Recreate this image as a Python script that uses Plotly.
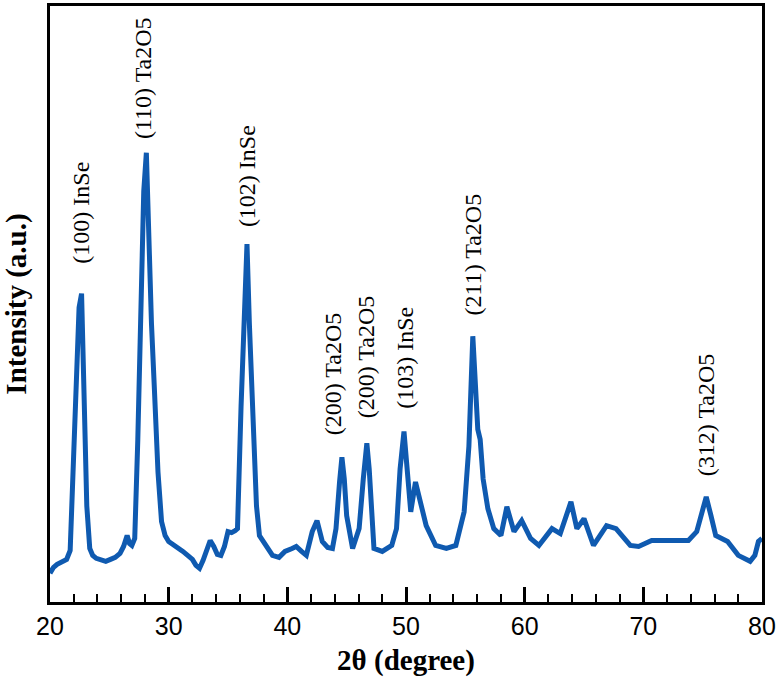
import plotly.graph_objects as go

two_theta = [20.0, 20.3, 20.6, 21.0, 21.4, 21.7, 21.95, 22.2, 22.45, 22.66, 22.8, 22.95, 23.1, 23.35, 23.6, 23.9,
             24.3, 24.7, 25.1, 25.5, 25.9, 26.2, 26.5, 26.7, 26.9, 27.14, 27.4, 27.7, 27.9, 28.12, 28.3, 28.55,
             28.8, 29.1, 29.4, 29.7, 30.0, 30.4, 30.8, 31.2, 31.6, 32.0, 32.3, 32.6, 32.9, 33.2, 33.5, 33.8,
             34.1, 34.4, 34.7, 35.0, 35.3, 35.6, 35.8, 36.1, 36.4, 36.6, 36.8, 37.05, 37.4, 37.65, 38.2, 38.75,
             39.3, 39.8, 40.4, 40.75, 41.2, 41.6, 42.1, 42.5, 42.95, 43.4, 43.8, 44.1, 44.4, 44.6, 44.8, 45.0,
             45.5, 46.05, 46.4, 46.7, 46.9, 47.05, 47.3, 48.0, 48.8, 49.2, 49.5, 49.83, 50.1, 50.4, 50.8, 51.2,
             51.7, 52.5, 53.4, 54.2, 54.9, 55.3, 55.47, 55.63, 55.85, 56.05, 56.25, 56.5, 56.9, 57.4, 58.0, 58.5,
             59.1, 59.75, 60.5, 61.2, 62.3, 63.0, 63.9, 64.4, 65.0, 65.8, 66.9, 67.7, 68.9, 69.6, 70.7, 72.4,
             73.8, 74.5, 74.9, 75.3, 75.7, 76.1, 77.1, 78.0, 79.0, 79.4, 79.7, 80.0]
intensity = [29, 35, 38, 40, 43, 52, 131, 231, 297, 311, 247, 164, 97, 54, 47, 44,
             42, 41, 43, 45, 49, 56, 67, 59, 57, 64, 164, 314, 414, 453, 364, 281,
             214, 131, 81, 67, 61, 58, 54, 51, 47, 43, 37, 34, 42, 54, 62, 56,
             48, 47, 56, 71, 70, 72, 74, 197, 314, 361, 281, 214, 97, 67, 57, 47,
             45, 51, 54, 56, 51, 47, 71, 82, 61, 55, 54, 74, 121, 146, 124, 87,
             54, 74, 124, 160, 134, 104, 54, 51, 57, 74, 134, 172, 134, 91, 121, 99,
             77, 57, 54, 57, 91, 157, 204, 268, 219, 174, 164, 124, 94, 74, 67, 96,
             71, 82, 64, 57, 74, 69, 101, 74, 84, 57, 77, 74, 57, 56, 62, 62,
             62, 71, 87, 106, 87, 67, 61, 47, 41, 47, 61, 64]

peak_labels = ["(100) InSe", "(110) Ta2O5", "(102) InSe", "(200) Ta2O5", "(200) Ta2O5",
               "(103) InSe", "(211) Ta2O5", "(312) Ta2O5"]
label_x = [22.6, 27.85, 36.6, 43.8, 46.65, 49.85, 55.65, 75.25]
label_y = [339, 465, 376, 166, 183, 193, 287, 125]

x_ticks = [20, 30, 40, 50, 60, 70, 80]

fig = go.Figure()
fig.add_trace(go.Scatter(x=two_theta, y=intensity, mode="lines",
                         line=dict(color="#0F5AB0", width=5), showlegend=False))

for t, lx, ly in zip(peak_labels, label_x, label_y):
    fig.add_annotation(x=lx, y=ly, text=t, textangle=-90, showarrow=False,
                       xanchor="center", yanchor="bottom",
                       font=dict(family="Liberation Serif", size=24, color="black"))

fig.update_layout(
    width=779, height=677,
    margin=dict(l=50, r=15, t=3, b=73),
    paper_bgcolor="white", plot_bgcolor="white",
    xaxis=dict(range=[20, 80], tickvals=x_ticks, ticktext=[str(v) for v in x_ticks],
               showline=True, linecolor="black", linewidth=3, mirror=True,
               ticks="inside", ticklen=15, tickwidth=3, tickcolor="black",
               minor=dict(ticks="inside", ticklen=8, tickwidth=1.5, dtick=2, tickcolor="black"),
               showgrid=False, zeroline=False,
               tickfont=dict(family="Liberation Sans", size=25, color="black"),
               title=dict(text="<b>2θ (degree)</b>", standoff=14,
                          font=dict(family="Liberation Serif", size=29, color="black"))),
    yaxis=dict(range=[0, 601], showline=True, linecolor="black", linewidth=3, mirror=True,
               showticklabels=False, ticks="", showgrid=False, zeroline=False,
               title=dict(text="<b>Intensity (a.u.)</b>", standoff=14,
                          font=dict(family="Liberation Serif", size=29, color="black"))),
)

fig.write_html("out.html")
